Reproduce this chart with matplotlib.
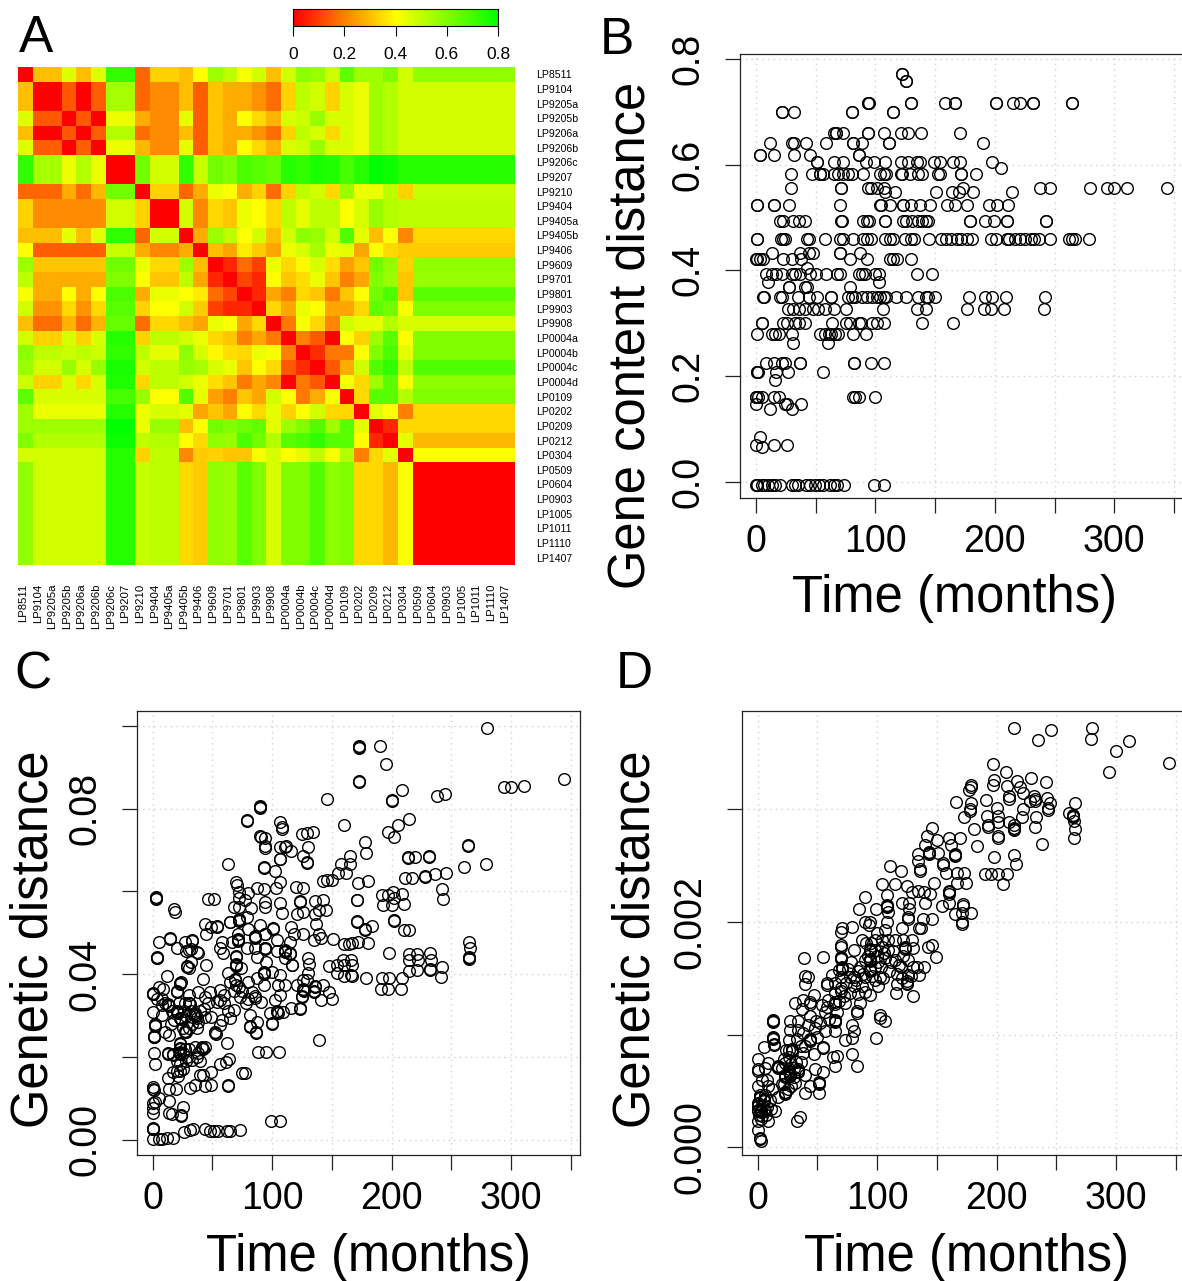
"""Recreate the four-panel L. pneumophila distance figure."""

import matplotlib

matplotlib.use("Agg")

import matplotlib.pyplot as plt
import numpy as np
from matplotlib.colors import LinearSegmentedColormap

W, H = 1182, 1281

taxa = ["LP8511", "LP9104", "LP9205a", "LP9205b", "LP9206a", "LP9206b", "LP9206c", "LP9207", "LP9210",
        "LP9404", "LP9405a", "LP9405b", "LP9406", "LP9609", "LP9701", "LP9801", "LP9903", "LP9908",
        "LP0004a", "LP0004b", "LP0004c", "LP0004d", "LP0109", "LP0202", "LP0209", "LP0212", "LP0304",
        "LP0509", "LP0604", "LP0903", "LP1005", "LP1011", "LP1110", "LP1407"]

# rows 0-26 are single taxa, the last column/row stands for the identical LP0509..LP1407 block
dist_rows = [
    [0, .30, .30, .45, .30, .45, .72, .72, .16, .33, .33, .30, .40, .55, .50, .41, .47, .30, .47, .58, .56, .48, .65, .55, .55, .60, .47, .57],
    [.30, 0, 0, .14, 0, .15, .54, .54, .16, .22, .22, .30, .15, .31, .27, .27, .23, .17, .33, .50, .47, .33, .46, .43, .55, .52, .47, .47],
    [.30, 0, 0, .14, 0, .15, .54, .54, .16, .22, .22, .30, .15, .31, .27, .27, .23, .17, .33, .50, .47, .33, .46, .43, .55, .52, .47, .47],
    [.45, .14, .14, 0, .14, 0, .43, .43, .27, .22, .22, .44, .15, .31, .27, .40, .34, .28, .46, .48, .56, .46, .46, .43, .55, .52, .47, .47],
    [.30, 0, 0, .14, 0, .15, .52, .52, .17, .22, .22, .30, .15, .31, .27, .27, .23, .17, .33, .50, .46, .34, .46, .43, .55, .52, .47, .47],
    [.45, .15, .15, 0, .15, 0, .43, .43, .29, .22, .22, .44, .15, .31, .27, .40, .34, .28, .46, .48, .56, .46, .46, .43, .55, .52, .47, .47],
    [.72, .54, .54, .43, .52, .43, 0, 0, .62, .47, .47, .72, .49, .62, .60, .68, .66, .64, .74, .72, .76, .75, .69, .74, .80, .78, .74, .74],
    [.72, .54, .54, .43, .52, .43, 0, 0, .62, .47, .47, .72, .49, .62, .60, .68, .66, .64, .74, .72, .76, .75, .69, .74, .80, .78, .74, .74],
    [.16, .16, .16, .27, .17, .29, .62, .62, 0, .33, .33, .16, .27, .43, .40, .27, .33, .17, .33, .50, .47, .34, .56, .43, .43, .50, .33, .49],
    [.33, .22, .22, .22, .22, .22, .47, .47, .33, 0, 0, .47, .21, .34, .31, .43, .40, .34, .50, .44, .50, .50, .40, .46, .56, .52, .50, .50],
    [.33, .22, .22, .22, .22, .22, .47, .47, .33, 0, 0, .47, .21, .34, .31, .43, .40, .34, .50, .44, .50, .50, .40, .46, .56, .52, .50, .50],
    [.30, .30, .30, .44, .30, .44, .72, .72, .16, .47, .47, 0, .27, .55, .50, .40, .47, .30, .47, .58, .56, .47, .67, .44, .30, .40, .21, .34],
    [.40, .15, .15, .15, .15, .15, .49, .49, .27, .21, .21, .27, 0, .30, .26, .37, .32, .26, .43, .46, .54, .43, .44, .26, .40, .34, .32, .32],
    [.55, .31, .31, .31, .31, .31, .62, .62, .43, .34, .34, .55, .30, 0, .06, .17, .10, .43, .34, .39, .46, .35, .25, .31, .62, .57, .33, .57],
    [.50, .27, .27, .27, .27, .27, .60, .60, .40, .31, .31, .50, .26, .06, 0, .11, .06, .40, .31, .35, .43, .31, .20, .26, .60, .56, .31, .56],
    [.41, .27, .27, .40, .27, .40, .68, .68, .27, .43, .43, .40, .37, .17, .11, 0, .06, .26, .20, .34, .31, .19, .31, .40, .62, .68, .31, .66],
    [.47, .23, .23, .34, .23, .34, .66, .66, .33, .40, .40, .47, .32, .10, .06, .06, 0, .34, .26, .43, .40, .26, .26, .34, .65, .62, .41, .60],
    [.30, .17, .17, .28, .17, .28, .64, .64, .17, .34, .34, .30, .26, .43, .40, .26, .34, 0, .19, .41, .34, .21, .47, .44, .44, .52, .46, .46],
    [.47, .33, .33, .46, .33, .46, .74, .74, .33, .50, .50, .47, .43, .34, .31, .20, .26, .19, 0, .20, .14, 0, .40, .33, .55, .66, .40, .60],
    [.58, .50, .50, .48, .50, .48, .72, .72, .50, .44, .44, .58, .46, .39, .35, .34, .43, .41, .20, 0, .07, .19, .19, .40, .60, .68, .44, .60],
    [.56, .47, .47, .56, .46, .56, .76, .76, .47, .50, .50, .56, .54, .46, .43, .31, .40, .34, .14, .07, 0, .14, .27, .47, .67, .72, .50, .67],
    [.48, .33, .33, .46, .34, .46, .75, .75, .34, .50, .50, .47, .43, .35, .31, .19, .26, .21, 0, .19, .14, 0, .41, .34, .55, .66, .41, .58],
    [.65, .46, .46, .46, .46, .46, .69, .69, .56, .40, .40, .67, .44, .25, .20, .31, .26, .47, .40, .19, .27, .41, 0, .34, .66, .66, .52, .60],
    [.55, .43, .43, .43, .43, .43, .74, .74, .43, .46, .46, .44, .26, .31, .26, .40, .34, .44, .33, .40, .47, .34, .34, 0, .44, .40, .20, .34],
    [.55, .55, .55, .55, .55, .55, .80, .80, .43, .56, .56, .30, .40, .62, .60, .62, .65, .44, .55, .60, .67, .55, .66, .44, 0, .06, .34, .34],
    [.60, .52, .52, .52, .52, .52, .78, .78, .50, .52, .52, .40, .34, .57, .56, .68, .62, .52, .66, .68, .72, .66, .66, .40, .06, 0, .44, .29],
    [.47, .47, .47, .47, .47, .47, .74, .74, .33, .50, .50, .21, .32, .33, .31, .31, .41, .46, .40, .44, .50, .41, .52, .20, .34, .44, 0, .40],
    [.57, .47, .47, .47, .47, .47, .74, .74, .49, .50, .50, .34, .32, .57, .56, .66, .60, .46, .60, .60, .67, .58, .60, .34, .34, .29, .40, 0],
]

# panel B: gene content distance comes in discrete levels, so listed as (level, months)
gene_rows = [
    (.772, [122, 122]), (.758, [126, 126]),
    (.716, [94, 94, 95, 130, 130, 158, 167, 167, 201, 201, 215, 221, 232, 232, 265, 265]),
    (.699, [22, 22, 32, 80, 80, 115, 115]),
    (.660, [65, 67, 67, 73, 94, 94, 107, 121, 127, 138, 171]),
    (.640, [12, 30, 32, 42, 59, 81, 81, 89, 111, 111, 190]),
    (.618, [3, 3, 15, 32, 45, 86, 86]),
    (.604, [51, 51, 65, 73, 92, 99, 108, 121, 127, 135, 137, 149, 154, 165, 171, 198]),
    (.593, [205]),
    (.582, [29, 47, 54, 54, 56, 65, 69, 73, 77, 80, 90, 104, 107, 109, 121, 122, 129, 136, 139, 152, 154, 172, 172, 184]),
    (.556, [29, 71, 71, 94, 96, 101, 107, 173, 238, 246, 280, 294, 300, 311, 344]),
    (.549, [108, 116, 151, 164, 170, 182, 214]),
    (.523, [1, 1, 15, 15, 28, 70, 104, 105, 112, 123, 123, 130, 137, 146, 160, 167, 177, 195, 202, 211]),
    (.493, [20, 23, 31, 36, 41, 71, 72, 90, 93, 95, 108, 108, 123, 126, 131, 136, 139, 142, 144, 179, 179, 192, 199, 210, 210, 243, 243]),
    (.460, [1, 1, 21, 23, 24, 43, 44, 58, 70, 73, 81, 90, 93, 96, 108, 112, 115, 125, 130, 132, 145, 155, 159, 163, 168,
            172, 177, 181, 197, 201, 210, 212, 217, 221, 225, 230, 233, 237, 246, 262, 265, 267, 279]),
    (.432, [13, 37, 44, 48, 70, 70, 87]),
    (.422, [0, 1, 3, 6, 23, 30, 38, 79, 93, 112, 115, 118, 130]),
    (.404, [43]),
    (.393, [8, 13, 17, 22, 30, 33, 37, 45, 50, 59, 68, 70, 86, 89, 91, 100, 103, 135, 147]),
    (.377, [10, 103]),
    (.368, [28, 28, 41, 43, 79]),
    (.350, [6, 7, 20, 22, 35, 44, 51, 63, 63, 77, 80, 83, 89, 93, 97, 101, 104, 107, 109, 117, 126, 136, 142, 144, 150, 178, 192, 198, 209, 242]),
    (.327, [27, 31, 36, 41, 48, 52, 58, 65, 75, 106, 135, 142, 177, 191, 197, 208, 241]),
    (.301, [5, 5, 23, 26, 33, 36, 41, 64, 75, 79, 86, 88, 97, 101, 107, 139, 165]),
    (.279, [1, 13, 16, 19, 30, 54, 58, 61, 63, 66, 69, 81, 92]),
    (.262, [31, 60]),
    (.224, [8, 15, 22, 24, 37, 37, 82, 82, 96, 107]),
    (.208, [1, 1, 2, 17, 27, 56]),
    (.192, [16]),
    (.160, [0, 0, 2, 5, 15, 19, 81, 83, 86, 100]),
    (.147, [0, 24, 26, 38]),
    (.137, [12, 30]),
    (.085, [3]), (.069, [0, 15, 26]), (.065, [5]),
    (-.006, [0, 1, 1, 5, 7, 10, 13, 16, 20, 30, 33, 35, 42, 45, 49, 53, 56, 62, 65, 68, 74, 99, 107]),
]

# panel C: months, genetic distance in units of 1e-3
genetic_c = [
    (280, 99.5), (173, 95.1), (173, 94.9), (173, 94.7), (190, 95.2), (195, 90.7), (173, 86.6), (173, 86.4), (344, 87.1),
    (294, 85.2), (300, 85.3), (311, 85.5), (209, 84.4), (238, 83.1), (245, 83.4), (200, 82), (200, 81.8), (146, 82.4),
    (90, 80.6), (90, 80.3), (90, 80.1), (79, 77.3), (79, 77.1), (215, 77.5), (160, 76), (107, 76.8), (108, 75.6), (108, 75),
    (205, 76.1), (197, 74.4), (202, 73.1), (125, 73.9), (129, 74), (134, 74.3), (178, 71.8), (179, 69.2), (90, 73.3),
    (91, 73.2), (94, 72.8), (94, 70.9), (94, 70.5), (130, 70.8), (107, 70.6), (111, 70.8), (112, 70.9), (116, 69.8),
    (264, 71.1), (264, 70.9), (107, 67.9), (107, 67.7), (126, 68.5), (129, 67.1), (129.5, 66.9), (165, 68.5), (214, 68.3),
    (214, 68.1), (220, 68.3), (231, 68.5), (231, 68.3), (63, 66.5), (158, 66.7), (165, 66.7), (162, 64.5), (155, 64.3),
    (93.5, 65.9), (93.5, 65.7), (102, 64.9), (261, 65.8), (279, 66.7), (236, 64.2), (228, 63.6), (228, 63.4), (246, 64.3),
    (211, 63.1), (217, 63.3), (107, 62.3), (70, 62.3), (71, 61.5), (72, 59.9), (143, 62.5), (146, 62.7), (150, 62.7),
    (172, 62.1), (180, 62.4), (103, 60.7), (87, 60.7), (93, 60.5), (120, 61.1), (126, 60.7), (242, 60.6), (243, 58.1),
    (3, 58.6), (3, 58.4), (3, 58.2), (46, 58.1), (51, 58.1), (18, 55.7), (19, 54.9), (80, 59.5), (77, 57.9), (72, 58.3),
    (68, 56.3), (72, 56.3), (94, 57.5), (94, 56.3), (107, 57.1), (108, 54.7), (123, 57.6), (123, 57.4), (136, 57.7),
    (143, 57.9), (139, 55.5), (145, 55.5), (136, 54.5), (121, 54.5), (126, 55.1), (171, 58), (171, 57.8), (192, 59.2),
    (197, 59.2), (201, 59.9), (209, 59.3), (202, 58.3), (193, 56.7), (200, 56.7), (210, 56.9), (202, 53.1), (202, 52.9),
    (171, 52.9), (171, 52.7), (178, 50.9), (178, 50.7), (184, 51.6), (210, 50.6), (215, 50.6), (160, 47.2), (164, 47.2),
    (167, 47.4), (172, 47.7), (180, 47.4), (151, 48.5), (265, 47.8), (266, 46.4), (265, 44.1), (265, 43.9), (265, 43.7),
    (198, 45.2), (215, 44.8), (221, 44.8), (232, 45), (215, 43.4), (222, 43.4), (233, 43.5), (215, 40.8), (221, 41.1),
    (232, 41.2), (232, 41), (242, 41.8), (241, 39.2), (192, 39), (198, 39.1), (209, 39.1), (191, 36.3), (197, 36.5),
    (208, 36.5), (179, 39), (148, 42), (154, 42.2), (159, 43.4), (166, 43.5), (160, 42.2), (167, 42.2), (154, 40.2),
    (160, 39.6), (166, 39.8), (167, 39.6), (130, 43.8), (131, 42.4), (130, 40.2), (129, 38.6), (139, 24), (88.5, 21.3),
    (95, 21.3), (106, 21.3), (99, 4.4), (107, 4.6), (77, 16), (75, 16), (26, 1.9), (31, 2.3), (34, 2.6), (44, 2.7),
    (48, 2.2), (51, 2.2), (55, 2), (62, 2.2), (65, 2.2), (73, 2.3), (0.5, 2.9), (0.5, 2.7), (0.5, 2.5), (0.5, .2), (5, .1),
    (7.5, .2), (12, .3), (17, .3), (0.5, 12.8), (1, 12), (0.5, 12.2), (0.5, 8.8), (2, 9.2), (0, 7.6), (0, 6.4), (5.5, 10),
    (14, 9.4), (14, 6.4), (16, 6.1), (24, 5.9), (24, 5.7), (25, 8), (14, 12.2), (19.5, 12.2), (31, 12.4), (35, 13.2),
    (44, 13), (49, 13.2), (63, 13.1), (63, 12.9), (40, 15.6), (42, 15.6), (49, 16.3), (13, 15), (17, 16.3), (23, 16.7),
    (23, 18.4), (20, 16.5), (1, 21), (2, 18.4), (5, 47.7), (14.5, 48.7), (14.5, 48.5), (20, 46.2), (27, 47.8), (33, 48.2),
    (33, 48), (30, 45.8), (32, 46), (28, 45.6), (37, 45.4), (38, 45.2), (4, 44.2), (4, 44), (4, 43.8), (44, 52.2), (45, 49.7),
    (49, 51.3), (54, 51.5), (54, 51.3), (58, 47.8), (56, 46.4), (59, 45.2), (66, 47.8), (65, 52.7), (65, 52.5), (72, 53.2),
    (72, 53), (72, 52.8), (79, 53.9), (82, 55.9), (71.5, 49.8), (71.5, 48.4), (71.5, 48.2), (71.5, 48), (79, 46.2), (86, 49.2),
    (86, 49), (86, 48.8), (86, 46.2), (87, 44.2), (80, 51), (90, 51.8), (94, 49.8), (94, 49.6), (101, 51.1), (101, 50.9),
    (104, 48.2), (94, 46.4), (94, 46.2), (94, 46), (104, 45.6), (111, 45.8), (111, 45.6), (111, 45.4), (115, 45.1), (115, 44.9),
    (111, 43.8), (116, 51.4), (118, 49.8), (126, 49.7), (115, 47.8), (135, 48.2), (139, 49.7), (141, 48.6), (137, 52.2),
    (117, 42.3), (117, 42.1), (95, 43), (70, 44.3), (70, 44.1), (70, 42.4), (70, 42.2), (70, 42), (74, 41.4), (63, 40.2),
    (69, 38.7), (69, 38.5), (70, 37.4), (65, 38.2), (100, 40.6), (93, 40.4), (93, 40.2), (93, 40), (107, 39.9), (87, 39),
    (45, 42.3), (29, 41.9), (29, 41.7), (30, 41.5), (32, 43), (42, 38.7), (12, 39.5), (23, 37.9), (23, 37.7), (24, 38.1),
    (20, 35.8), (20, 35.6), (5, 37), (9, 36.5), (0, 35.5), (0, 35.3), (0, 35.1), (8, 34.1), (38, 35.7), (48, 35.7), (56, 36.1),
    (54, 33.3), (44, 34.5), (56, 33.7), (30, 34.9), (30, 33.1), (30, 32.9), (31, 32.7), (13, 32.7), (13, 32.5), (14, 32.3),
    (7.5, 32.5), (0, 30.9), (7.5, 30.1), (20, 31.1), (20, 30.9), (21, 30.7), (23, 29.5), (23, 29.3), (24, 29.1), (35, 30.5),
    (35, 30.1), (36, 29.9), (34, 30.3), (37, 29.5), (44, 29.7), (38, 28.5), (49, 29.7), (65, 29.3), (68, 31.3), (58, 28.9),
    (73, 34.5), (80, 34.1), (83, 35.7), (86, 34.7), (86, 34.3), (91, 33.3), (2, 27.9), (2, 27.7), (2, 27.5), (1, 25.1), (1, 24.9),
    (1, 24.7), (10, 26.1), (14, 25.3), (27, 26.3), (27, 26.1), (28, 25.9), (37, 26.9), (52, 25.9), (52, 25.7), (53, 25.5),
    (56, 27.7), (62, 23.4), (81.5, 27.4), (81.5, 27.2), (86.5, 25.9), (86.5, 25.7), (87, 28.5), (81.5, 30.1), (100, 28.2),
    (100, 28), (98, 30.5), (104, 31.1), (104, 30.9), (105, 30.7), (109, 30.9), (116, 31.7), (123, 31.8), (123, 31.6), (102, 33.7),
    (107, 34.9), (105, 37.4), (111, 37.4), (93, 37.4), (121, 37.4), (126, 36.3), (126, 36.1), (127, 35.9), (125, 34.6), (125, 34.4),
    (136, 37.1), (136, 36.9), (143, 37.4), (148, 35.7), (150, 34.1), (141, 33.7), (135, 35.8), (135, 35.6), (126, 38.6),
    (23, 23.4), (23, 23.2), (13, 21), (13, 20.8), (17, 20.7), (17, 20.5), (23, 21.1), (23, 20.9), (23, 20.7), (23, 22.2),
    (23, 22), (33, 19.2), (37, 20), (35, 22.5), (41, 22.3), (41, 22.1), (42, 21.9), (44, 22.5), (56, 18.4), (61, 18.8), (64, 19.6),
    # denser lower-left cloud
    (4, 34), (10, 33), (16, 31), (22, 33), (26, 31), (28, 30), (33, 28), (32, 31), (40, 31), (27, 33), (18, 29), (15, 28),
    (25, 27), (30, 27), (43, 31.5), (46, 33), (60, 33), (63, 31), (60, 35), (68, 36), (75, 36), (78, 33), (72, 37), (80, 38),
    (25, 21), (27, 22), (29, 20), (20, 19), (25, 17), (21, 15.5), (28, 19), (38, 21), (30, 22), (40, 19),
]

# panel D: months, genetic distance in units of 1e-4
genetic_d = [
    (215, 37.2), (235, 36.1), (246, 37), (280, 37.2), (279, 36.2), (311, 36), (300, 35.1), (294, 33.3), (344, 34.1),
    (197, 34), (208, 33.3), (198, 32.6), (197, 32.1), (217, 32.5), (229, 32.7), (241, 32.4), (209, 32), (220, 31.9), (222, 31.4),
    (179, 32.1), (179, 31.9), (177, 31.7), (166, 30.6), (179, 30.5), (178, 30), (178, 29.8), (173, 29.3), (191, 30.8), (200, 30.1),
    (192, 29.4), (201, 29.4), (201, 28.8), (193, 28.6), (193, 28.4), (181, 28.2), (201, 27.6), (201, 27.4), (210, 31.1), (210, 30.9),
    (231, 31.1), (232, 30.9), (232, 30.7), (228, 30.7), (242, 31), (245, 30.5), (243, 30.1), (243, 29.9), (222, 30), (221, 29.3),
    (233, 29.3), (232, 28.4), (210, 28.8), (215, 28.6), (215, 28.3), (215, 28.2), (215, 28.1), (238, 26.9), (266, 30.5), (261, 29.6),
    (264, 29.5), (264, 29.4), (264, 29.3), (265, 28.9), (266, 28.2), (265, 27.4), (184, 26.7), (198, 25.7), (215, 25.9), (216, 25.1),
    (190, 24.2), (195, 24.2), (201, 24.2), (209, 24.2), (205, 23.3), (146, 28.3), (142, 27.6), (150, 27.2), (160, 27.4), (169, 27.4),
    (162, 26.8), (140, 26.8), (134.5, 26), (134, 25.4), (143.5, 26.2), (143.5, 26.1), (143.5, 26), (151, 26.1), (165, 26), (165, 25.9),
    (165, 25.8), (155, 25.2), (155, 25), (158, 24.3), (167, 24.3), (173, 24.3), (167, 23.4), (174, 23.4), (136, 24.7), (136, 24.5),
    (111, 24.9), (120, 24.5), (104, 23.3), (115, 23.3), (125, 23.2), (148, 23.4), (129, 22.6), (134, 22.7), (139, 22.6), (144, 22.5),
    (160, 22.7), (160, 22.6), (160, 22.5), (160, 21.7), (154, 21.4), (140, 21.7), (172, 21.6), (172, 21.4), (165, 20.7), (171, 20.8),
    (179, 20.8), (171, 20), (171, 19.8), (90, 22.2), (85, 21.1), (99, 21.1), (108, 22.4), (108, 21.5), (108, 21.4), (108, 21.3), (109, 20.9),
    (121, 21.7), (127, 21.7), (127, 21.1), (126, 20.4), (126, 20.2), (138, 20.2), (146, 20.2), (135, 19.4), (137, 19.4), (79, 19.5),
    (71, 19.4), (70, 19.1), (90, 20), (94, 20), (93, 19.7), (108, 20), (100, 19), (107, 19.3), (121, 19.4), (129, 18.4), (122, 18.4),
    (115, 18.4), (87, 18.4), (91, 18.1), (95, 18.1), (98, 18.4), (104, 18.4), (109, 18.4), (94, 17.6), (94, 17.5), (94, 17.4), (98, 17.5),
    (104, 17.8), (109, 17.5), (123, 17.8), (123, 17.7), (123, 17.6), (130, 17.7), (143, 17.8), (146, 17.9), (149, 16.9), (70, 17.9),
    (70, 17.8), (70, 16.9), (70, 16.8), (70, 16.7), (71, 16), (71, 15.9), (71, 15.8), (68, 15.7), (55, 16.9), (39, 16.8), (81, 17.5),
    (86, 16), (94, 16.7), (94, 16.6), (94, 16.5), (94, 15.8), (94, 15.7), (94, 15.6), (101, 16.4), (107, 16.8), (115, 16.6), (118, 16.2),
    (126, 16.6), (130, 16), (133, 16), (139, 16), (135, 15.3), (40, 15.2), (42, 15.1), (40, 14.5), (58, 14.6), (58, 14.4), (62, 15.3),
    (65, 14.6), (70, 15.1), (77, 15.1), (81, 15.1), (90, 15.1), (126, 15.3), (125, 14.7), (125, 14.6), (125, 14.5), (117, 14.5), (116, 13.7),
    (130, 13.4), (102, 15.1), (101, 14.3), (94, 13.5), (87, 14.3), (81, 14.3), (77, 13.7), (70, 14.1), (70, 13.9), (65, 13.7), (59, 13.1),
    (65, 12.9), (65, 12.7), (73, 12.8), (86, 12.8), (83, 12.1), (83, 11.9), (31, 12.8), (38, 13.1), (47, 13.5), (44, 12.9), (44, 12.7),
    (37, 12.3), (56, 12), (102, 11.7), (102, 11.5), (107, 11.2), (99, 9.7), (13, 11.3), (13, 11.2), (13, 11.1), (27, 11.2), (27, 10.4),
    (34, 11.2), (34, 10.4), (44, 11.6), (49, 11.2), (65, 11.3), (65, 11.2), (65, 11.1), (56, 10.3), (65, 10.3), (79, 10.8), (81, 10.3),
    (73, 9.5), (79, 9.7), (79, 8.3), (83, 7.2), (55, 8.9), (55, 8.8), (47, 8.3), (63, 8), (66, 8.1), (65, 7.2), (13, 9.8), (13, 9.7),
    (13, 9.6), (14, 9.2), (14, 9.1), (5, 8.9), (26, 9.5), (29, 8.7), (29, 8.6), (29, 8.5), (38, 10.1), (44, 9.6), (44, 9.5), (44, 9.4),
    (26, 8.6), (0, 7.8), (0, 6.9), (0.5, 6.8), (9, 7.5), (17, 7.2), (17, 7.1), (17, 7), (23, 7.5), (26, 6.9), (26, 6.8), (26, 6.7),
    (34, 6.9), (34, 6.8), (34, 6.7), (27, 6.5), (27, 6.4), (27, 6.3), (23, 6.4), (23, 6.3), (23, 6.2), (31, 5.7), (40, 6.4), (55, 6.7),
    (48, 6.9), (44, 5.4), (40, 4.8), (51, 4.8), (51, 5.8), (51, 5.7), (51, 5.6), (23, 4.9), (23, 4.8), (23, 4.7), (17, 4.5), (0.5, 5.4),
    (9, 5.4), (2, 4.6), (2, 4.5), (2, 4.4), (0, 3.9), (0, 3.8), (0, 3.7), (5, 4.3), (5, 4.2), (5, 4.1), (14.5, 3.2), (9, 2.3), (0.5, 2.3),
    (0, 1.5), (2, 0.8), (2, 0.7), (3, 0.6), (3, 3.3), (3, 3.2), (3, 3.1), (0, 3.3), (0, 3.2), (33, 2.3), (35, 2.7),
    # denser clusters
    (20, 7), (22, 7.8), (24, 8.6), (26, 8), (28, 7.4), (30, 6.2), (30, 7), (32, 7.6), (22, 5.6), (25, 5.2), (20, 5.6), (28, 5.4),
    (4, 3.7), (6, 3.2), (4, 2.8), (6, 4.6), (8, 3.6), (7, 2.9), (1, 2.9), (3, 2.5), (10, 4.2), (12, 5.2), (11, 3.4), (8, 6),
    (4, 6), (6, 7), (36, 7.6), (38, 8.4), (40, 9), (36, 9), (33, 9.6), (50, 9.8), (48, 10.6), (42, 10.8),
    (72, 13.4), (74, 14.6), (76, 15.8), (78, 16.4), (82, 14.8), (84, 13.6), (84, 15.6), (88, 15.4), (90, 13.8), (90, 16.6), (92, 17),
    (96, 15.2), (98, 14.8), (98, 16), (100, 17), (103, 16), (105, 15), (106, 17.2), (110, 15.6), (112, 16.4), (113, 17.4), (117, 15.4),
    (120, 16), (121, 15), (122, 17), (128, 15.2), (66, 12), (68, 13), (58, 12.4), (54, 12.6), (60, 11.4), (52, 11),
]

months_major = [0, 100, 200, 300]
months_all = [0, 50, 100, 150, 200, 250, 300, 350]
colorbar_ticks = [0, 0.2, 0.4, 0.6, 0.8]

plt.rcParams["font.family"] = ["Liberation Sans", "DejaVu Sans"]

RYG = LinearSegmentedColormap.from_list("ryg", ["#ff0000", "#ffff00", "#00ff00"])


def axes_px(fig, left, top, right, bottom):
    return fig.add_axes([left / W, 1 - bottom / H, (right - left) / W, (bottom - top) / H])


def scatter_panel(fig, box, x0_px, y_zero_px, y_px_per_unit, xs, ys, yticks, ylabels):
    left, top, right, bottom = box
    ax = axes_px(fig, left, top, right, bottom)
    px_per_month = 418 / 350
    ax.set_xlim((left - x0_px) / px_per_month, (right - x0_px) / px_per_month)
    ax.set_ylim((y_zero_px - bottom) / y_px_per_unit, (y_zero_px - top) / y_px_per_unit)
    ax.grid(True, color="#d3d3d3", linestyle=(0, (1, 3)), linewidth=1.0)
    ax.set_axisbelow(True)
    ax.plot(xs, ys, "o", mfc="none", mec="black", ms=8.4, mew=1.0, clip_on=True)
    ax.set_xticks(months_all)
    ax.set_xticklabels([str(m) if m in months_major else "" for m in months_all], fontsize=27)
    ax.set_yticks(yticks)
    ax.set_yticklabels(ylabels, fontsize=27, rotation=90, va="center")
    ax.tick_params(axis="x", length=11, width=0.9, pad=8, color="#222222")
    ax.tick_params(axis="y", length=11, width=0.9, pad=13, color="#222222")
    for side in ax.spines.values():
        side.set_linewidth(0.9)
        side.set_color("#222222")
    return ax


def main():
    fig = plt.figure(figsize=(W / 100, H / 100), dpi=100, facecolor="white")

    # panel A
    col_idx = list(range(28)) + [27] * 6
    matrix = np.array(dist_rows)[:, col_idx][col_idx, :]
    ax = axes_px(fig, 18, 67, 515, 565)
    ax.imshow(matrix, cmap=RYG, vmin=0, vmax=0.8, aspect="auto", interpolation="nearest")
    ax.yaxis.tick_right()
    ax.set_yticks(range(len(taxa)))
    ax.set_yticklabels(taxa, fontsize=7.6)
    ax.set_xticks(np.arange(len(taxa)) - 0.15)
    ax.set_xticklabels(taxa, fontsize=8.2, rotation=90, va="top")
    ax.tick_params(axis="both", length=0)
    ax.tick_params(axis="y", pad=15)
    ax.tick_params(axis="x", pad=13.5)
    for side in ax.spines.values():
        side.set_visible(False)

    cax = axes_px(fig, 293, 9, 498, 26)
    gradient = np.linspace(0, 0.8, 256)[None, :]
    cax.imshow(gradient, cmap=RYG, vmin=0, vmax=0.8, aspect="auto", extent=[0, 0.8, 0, 1])
    cax.set_yticks([])
    cax.set_xticks(colorbar_ticks)
    cax.set_xticklabels(["0", "0.2", "0.4", "0.6", "0.8"], fontsize=12.5)
    cax.tick_params(axis="x", length=7, width=0.8, pad=8)
    for side in cax.spines.values():
        side.set_linewidth(0.8)

    # panel B
    bx = [m for _, row in gene_rows for m in row]
    by = [level for level, row in gene_rows for _ in row]
    scatter_panel(fig, (740, 54, 1186, 498), 756, 481.7, 528.5, bx, by,
                  [0, .2, .4, .6, .8], ["0.0", "0.2", "0.4", "0.6", "0.8"])

    # panel C
    cm = np.array(genetic_c)
    scatter_panel(fig, (137, 711, 580, 1155), 152.7, 1139.7, 4140, cm[:, 0], cm[:, 1] * 1e-3,
                  [0, .02, .04, .06, .08, .10], ["0.00", "", "0.04", "", "0.08", ""])

    # panel D
    dm = np.array(genetic_d)
    scatter_panel(fig, (742, 711, 1186, 1155), 757.7, 1147.3, 112800, dm[:, 0], dm[:, 1] * 1e-4,
                  [0, .001, .002, .003], ["0.000", "", "0.002", ""])

    def label(x, y, text, **kw):
        fig.text(x / W, 1 - y / H, text, ha="center", va="center", **kw)

    label(954, 598, "Time (months)", fontsize=36.5)
    label(369, 1257, "Time (months)", fontsize=36.5)
    label(966, 1257, "Time (months)", fontsize=36.5)
    label(631, 335, "Gene content distance", fontsize=36.5, rotation=90)
    label(34, 939, "Genetic distance", fontsize=36.5, rotation=90)
    label(636, 939, "Genetic distance", fontsize=36.5, rotation=90)

    label(36, 38, "A", fontsize=37)
    label(617, 41, "B", fontsize=37)
    label(33, 675, "C", fontsize=37)
    label(634, 675, "D", fontsize=37)

    fig.savefig("out.png", dpi=100, facecolor="white")
    plt.close(fig)


if __name__ == "__main__":
    main()
